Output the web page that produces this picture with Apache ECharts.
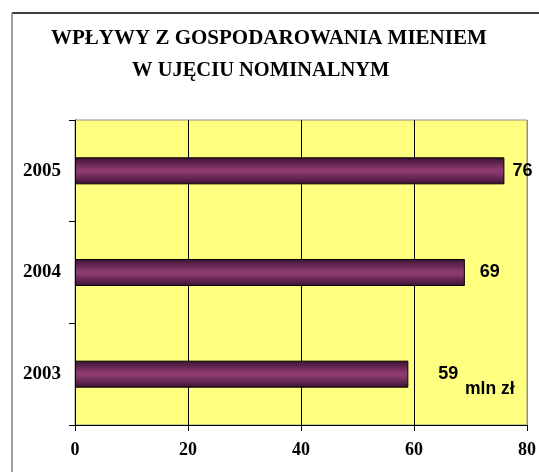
<!DOCTYPE html>
<html>
<head>
<meta charset="utf-8">
<title>Wpływy z gospodarowania mieniem</title>
<script src="https://cdn.jsdelivr.net/npm/echarts@6/dist/echarts.min.js"></script>
<style>
  html, body { margin: 0; padding: 0; background: #fff; }
  #chart { width: 539px; height: 472px; }
</style>
</head>
<body>
<div id="chart"></div>
<script>
// dane wykresu
var years = ['2003', '2004', '2005'];
var values = [59, 69, 76];
var xTicks = [0, 20, 40, 60, 80];
var titleLines = ['WPŁYWY Z GOSPODAROWANIA MIENIEM', 'W UJĘCIU NOMINALNYM'];
var unitLabel = 'mln zł';

// odstęp etykiety od końca słupka (jak w oryginale)
var labelGap = [30, 15, 8];

var myChart = echarts.init(document.getElementById('chart'));

var barColor = new echarts.graphic.LinearGradient(0, 0, 0, 1, [
  { offset: 0, color: '#3a1232' },
  { offset: 0.45, color: '#8c3a70' },
  { offset: 0.55, color: '#8c3a70' },
  { offset: 1, color: '#3a1232' }
]);

var option = {
  backgroundColor: '#ffffff',
  animation: false,
  graphic: [
    // ramka wykresu
    { type: 'line', shape: { x1: 12, y1: 13, x2: 539, y2: 13 }, style: { stroke: '#000', lineWidth: 1.5 } },
    { type: 'line', shape: { x1: 12, y1: 13, x2: 12, y2: 472 }, style: { stroke: '#808080', lineWidth: 1.5 } },
    // tytuł w dwóch wierszach
    {
      type: 'text', left: 51, top: 28,
      style: { text: titleLines[0], font: 'bold 21px "Liberation Serif"', fill: '#000' }
    },
    {
      type: 'text', left: 132, top: 60,
      style: { text: titleLines[1], font: 'bold 20.5px "Liberation Serif"', fill: '#000' }
    },
    // jednostka
    {
      type: 'text', left: 465, top: 380,
      style: { text: unitLabel, font: 'bold 17.5px "Liberation Sans"', fill: '#000' }
    }
  ],
  grid: {
    left: 75,
    right: 8,
    top: 120,
    bottom: 47,
    show: true,
    backgroundColor: '#ffff80',
    borderColor: '#909090',
    borderWidth: 1
  },
  xAxis: {
    type: 'value',
    min: xTicks[0],
    max: xTicks[xTicks.length - 1],
    interval: 20,
    axisLine: { show: true, lineStyle: { color: '#000', width: 1 } },
    axisTick: { show: true, length: 6, lineStyle: { color: '#000' } },
    axisLabel: {
      margin: 16,
      fontFamily: 'Liberation Serif',
      fontWeight: 'bold',
      fontSize: 18,
      color: '#000'
    },
    splitLine: {
      show: true,
      lineStyle: { color: ['#000', '#000', '#000', '#000', '#909090'], width: 1 }
    }
  },
  yAxis: {
    type: 'category',
    data: years,
    axisLine: { show: true, lineStyle: { color: '#000', width: 1 } },
    axisTick: { show: true, length: 6, lineStyle: { color: '#000' } },
    axisLabel: {
      margin: 14,
      fontFamily: 'Liberation Serif',
      fontWeight: 'bold',
      fontSize: 19,
      color: '#000'
    }
  },
  series: [
    {
      type: 'bar',
      barWidth: 27,
      data: values.map(function (v, i) {
        return {
          value: v,
          label: { distance: labelGap[i] }
        };
      }),
      itemStyle: {
        color: barColor,
        borderColor: '#000',
        borderWidth: 1
      },
      label: {
        show: true,
        position: 'right',
        fontFamily: 'Liberation Sans',
        fontWeight: 'bold',
        fontSize: 18,
        color: '#000'
      }
    }
  ]
};

myChart.setOption(option);
</script>
</body>
</html>
